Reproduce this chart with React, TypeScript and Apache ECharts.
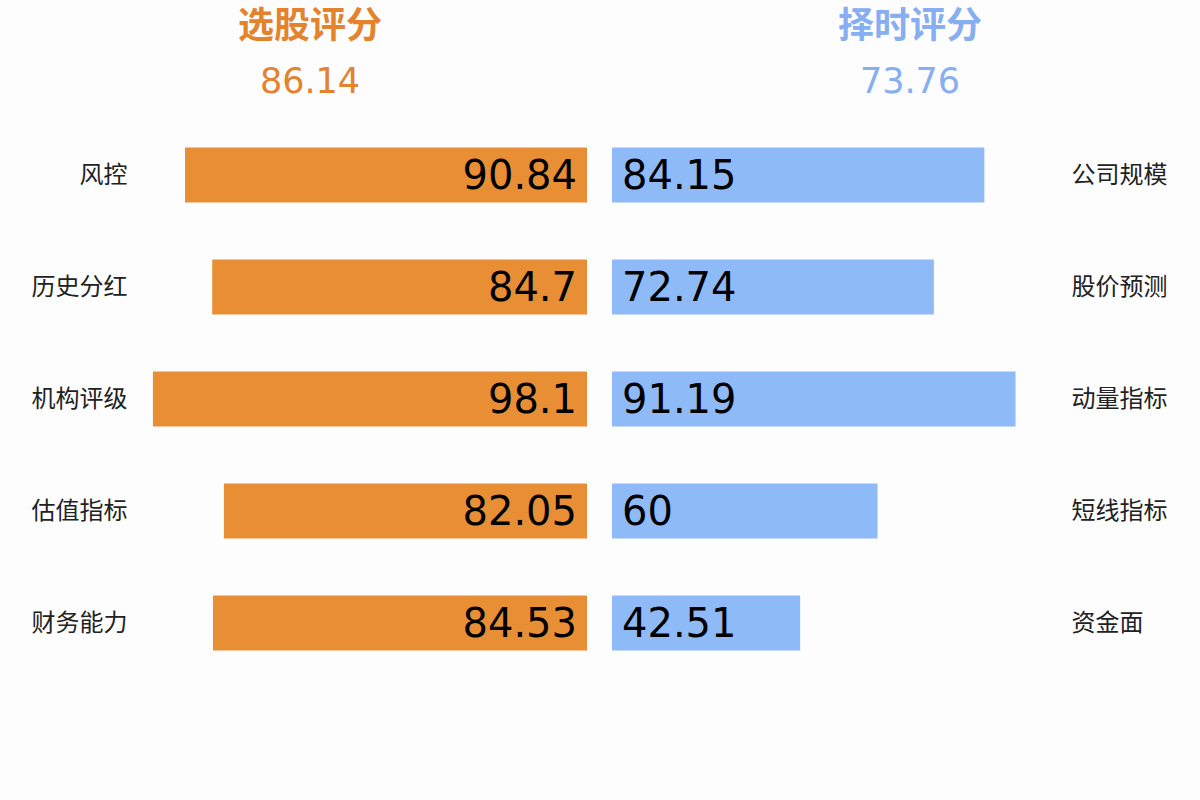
import { useEffect, useRef } from 'react';
import * as echarts from 'echarts';

const leftCategories = ['风控', '历史分红', '机构评级', '估值指标', '财务能力'];
const leftValues = [90.84, 84.7, 98.1, 82.05, 84.53];
const rightCategories = ['公司规模', '股价预测', '动量指标', '短线指标', '资金面'];
const rightValues = [84.15, 72.74, 91.19, 60, 42.51];

const leftTitle = '选股评分';
const leftScore = '86.14';
const rightTitle = '择时评分';
const rightScore = '73.76';

const ORANGE = '#E88F35';
const BLUE = '#8FBAF8';
const ORANGE_TEXT = '#E5822C';
const BLUE_TEXT = '#86AEF0';
const FONT = "'DejaVu Sans', 'Noto Sans CJK SC', sans-serif";

export default function App() {
  const chartRef = useRef<HTMLDivElement>(null);

  useEffect(() => {
    if (!chartRef.current) return;
    const chart = echarts.init(chartRef.current, undefined, { renderer: 'svg' });

    const option: echarts.EChartsOption = {
      animation: false,
      backgroundColor: '#fdfdfe',
      graphic: [
        {
          type: 'text',
          x: 310,
          y: 25,
          style: {
            text: leftTitle,
            fill: ORANGE_TEXT,
            font: `bold 36px ${FONT}`,
            align: 'center',
            verticalAlign: 'middle',
          },
        },
        {
          type: 'text',
          x: 310,
          y: 81,
          style: {
            text: leftScore,
            fill: ORANGE_TEXT,
            font: `35px ${FONT}`,
            align: 'center',
            verticalAlign: 'middle',
          },
        },
        {
          type: 'text',
          x: 910,
          y: 25,
          style: {
            text: rightTitle,
            fill: BLUE_TEXT,
            font: `bold 36px ${FONT}`,
            align: 'center',
            verticalAlign: 'middle',
          },
        },
        {
          type: 'text',
          x: 910,
          y: 81,
          style: {
            text: rightScore,
            fill: BLUE_TEXT,
            font: `35px ${FONT}`,
            align: 'center',
            verticalAlign: 'middle',
          },
        },
      ],
      grid: [
        { left: 144.5, top: 119, width: 442.5, height: 560 },
        { left: 612, top: 119, width: 442.5, height: 560 },
      ],
      xAxis: [
        { type: 'value', gridIndex: 0, min: 0, max: 100, inverse: true, show: false },
        { type: 'value', gridIndex: 1, min: 0, max: 100, show: false },
      ],
      yAxis: [
        {
          type: 'category',
          gridIndex: 0,
          data: leftCategories,
          inverse: true,
          position: 'left',
          axisLine: { show: false },
          axisTick: { show: false },
          axisLabel: { color: '#222', fontSize: 24, fontFamily: FONT, margin: 17 },
        },
        {
          type: 'category',
          gridIndex: 1,
          data: rightCategories,
          inverse: true,
          position: 'right',
          axisLine: { show: false },
          axisTick: { show: false },
          axisLabel: { color: '#222', fontSize: 24, fontFamily: FONT, margin: 17 },
        },
      ],
      series: [
        {
          type: 'bar',
          xAxisIndex: 0,
          yAxisIndex: 0,
          data: leftValues,
          barWidth: 55,
          itemStyle: { color: ORANGE },
          label: {
            show: true,
            position: 'insideRight',
            distance: 10,
            color: '#000',
            fontSize: 40,
            fontFamily: FONT,
          },
        },
        {
          type: 'bar',
          xAxisIndex: 1,
          yAxisIndex: 1,
          data: rightValues,
          barWidth: 55,
          itemStyle: { color: BLUE },
          label: {
            show: true,
            position: 'insideLeft',
            distance: 10,
            color: '#000',
            fontSize: 40,
            fontFamily: FONT,
          },
        },
      ],
    };

    chart.setOption(option);
    return () => chart.dispose();
  }, []);

  return (
    <div
      ref={chartRef}
      style={{ position: 'fixed', left: 0, top: 0, width: '1200px', height: '800px' }}
    />
  );
}
